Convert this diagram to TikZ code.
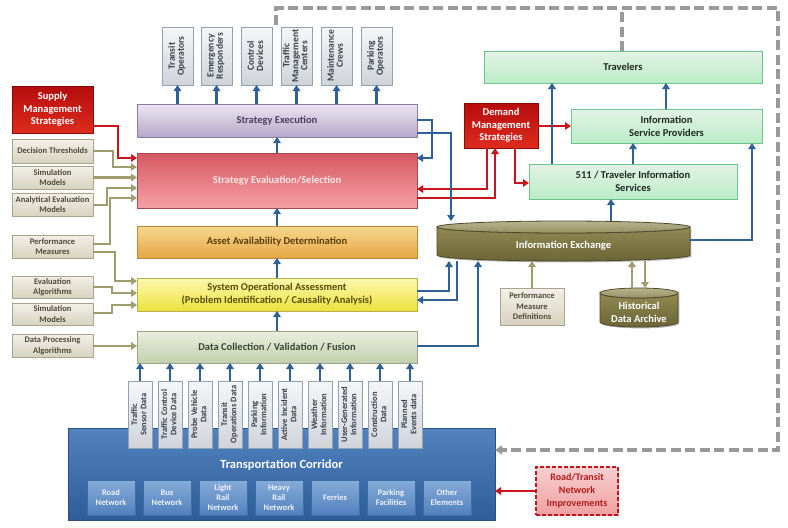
\documentclass[tikz,border=0pt]{standalone}
\usepackage{fontspec}
\setmainfont{Carlito}
\usepackage{graphicx}
\usetikzlibrary{arrows.meta,shadows}

\definecolor{arrblue}{HTML}{2E6297}
\definecolor{arrolive}{HTML}{A09C6C}
\definecolor{arrred}{HTML}{C9141C}
\definecolor{dashgray}{HTML}{9A9A9A}
\definecolor{grayT}{HTML}{F5F6F8}\definecolor{grayBot}{HTML}{D0D4D9}\definecolor{grayB}{HTML}{8FA2B6}\definecolor{grayTx}{HTML}{3A4049}
\definecolor{seT}{HTML}{EBE6F1}\definecolor{seBot}{HTML}{B4A8C8}\definecolor{seB}{HTML}{8A7DA0}\definecolor{seTx}{HTML}{4A3F5E}
\definecolor{sesT}{HTML}{D65862}\definecolor{sesBot}{HTML}{F6A1A4}\definecolor{sesB}{HTML}{A9484E}\definecolor{sesTx}{HTML}{FCE8E8}
\definecolor{aadT}{HTML}{F8D891}\definecolor{aadBot}{HTML}{E4A743}\definecolor{aadB}{HTML}{B98A3C}\definecolor{aadTx}{HTML}{5C3D0E}
\definecolor{soaT}{HTML}{FCF9AE}\definecolor{soaBot}{HTML}{EBE13C}\definecolor{soaB}{HTML}{B8B04A}\definecolor{soaTx}{HTML}{5A4D0A}
\definecolor{dcT}{HTML}{EAEFE0}\definecolor{dcBot}{HTML}{C3CFAE}\definecolor{dcB}{HTML}{9AA588}\definecolor{dcTx}{HTML}{3B4434}
\definecolor{lfT}{HTML}{F2F0E8}\definecolor{lfBot}{HTML}{D8D3C0}\definecolor{lfB}{HTML}{A8A38A}\definecolor{lfTx}{HTML}{4D4A3A}
\definecolor{rdT}{HTML}{B50D0D}\definecolor{rdBot}{HTML}{DE2C1E}\definecolor{rdB}{HTML}{8A0A0A}
\definecolor{grT}{HTML}{E4F3E7}\definecolor{grBot}{HTML}{BAECC6}\definecolor{grB}{HTML}{6CC48F}\definecolor{grTx}{HTML}{1F2A22}
\definecolor{tcT}{HTML}{5283BF}\definecolor{tcBot}{HTML}{2E5D98}\definecolor{tcB}{HTML}{2A4F80}
\definecolor{inT}{HTML}{86ABD8}\definecolor{inBot}{HTML}{5181BE}\definecolor{inB}{HTML}{3E6CA6}\definecolor{inTx}{HTML}{EEF3FA}
\definecolor{ieT}{HTML}{918A55}\definecolor{ieBot}{HTML}{6B6535}\definecolor{ieTopT}{HTML}{B9B48E}\definecolor{ieTopB}{HTML}{948F62}\definecolor{ieB}{HTML}{4F4B2A}
\definecolor{rtT}{HTML}{F8CFCF}\definecolor{rtBot}{HTML}{F0A0A0}\definecolor{rtB}{HTML}{C0141A}\definecolor{rtTx}{HTML}{B01C1C}

\newcommand\fmain{\bfseries\fontsize{10.5}{13}\selectfont}
\newcommand\fgreen{\bfseries\fontsize{10.5}{13}\selectfont}
\newcommand\fred{\bfseries\fontsize{10.5}{12.7}\selectfont}
\newcommand\fleft{\bfseries\fontsize{8.5}{10.5}\selectfont}
\newcommand\ftop{\bfseries\fontsize{9.5}{9}\selectfont}
\newcommand\fds{\bfseries\fontsize{8.5}{9.2}\selectfont}
\newcommand\finner{\bfseries\fontsize{8.5}{10}\selectfont}
\newcommand\ftc{\bfseries\fontsize{12.5}{14}\selectfont}
\newcommand\fie{\bfseries\fontsize{10.5}{12.7}\selectfont}
\newcommand\frt{\bfseries\fontsize{10}{13}\selectfont}

\newcommand\vtxt[1]{\rotatebox{90}{\begin{tabular}{@{}c@{}}#1\end{tabular}}}
\newcommand\placebox[6]{\node[#1,minimum width={(#5-#3)*1pt},minimum height={(#6-#4)*1pt}] (#2) at ({(#3+#5)/2},{(#4+#6)/2})}

\tikzset{
  bx/.style={draw, line width=0.8pt, inner sep=1pt, outer sep=0pt, align=center,
    drop shadow={shadow xshift=1.4pt, shadow yshift=-1.4pt, opacity=0.3, fill=black}},
  topbox/.style={bx, draw=grayB, top color=grayT, bottom color=grayBot, text=grayTx, font=\ftop},
  dsbox/.style={bx, draw=grayB, top color=grayT, bottom color=grayBot, text=grayTx, font=\fds},
  sebox/.style={bx, draw=seB, top color=seT, bottom color=seBot, text=seTx, font=\fmain},
  sesbox/.style={bx, draw=sesB, top color=sesT, bottom color=sesBot, text=sesTx, font=\fmain},
  aadbox/.style={bx, draw=aadB, top color=aadT, bottom color=aadBot, text=aadTx, font=\fmain},
  soabox/.style={bx, draw=soaB, top color=soaT, bottom color=soaBot, text=soaTx, font=\fmain},
  dcbox/.style={bx, draw=dcB, top color=dcT, bottom color=dcBot, text=dcTx, font=\fmain},
  leftbox/.style={bx, draw=lfB, top color=lfT, bottom color=lfBot, text=lfTx, font=\fleft},
  redbox/.style={bx, draw=rdB, top color=rdT, bottom color=rdBot, text=white, font=\fred},
  greenbox/.style={bx, draw=grB, top color=grT, bottom color=grBot, text=grTx, font=\fgreen},
  tcbox/.style={bx, draw=tcB, top color=tcT, bottom color=tcBot},
  innerbox/.style={bx, draw=inB, top color=inT, bottom color=inBot, text=inTx, font=\finner},
  rtbox/.style={bx, draw=rtB, line width=1.5pt, dash pattern=on 4pt off 2pt, top color=rtT, bottom color=rtBot, text=rtTx, font=\frt},
  cyl/.style={draw=ieB, line width=0.8pt, top color=ieT, bottom color=ieBot,
    drop shadow={shadow xshift=1.4pt, shadow yshift=-1.4pt, opacity=0.3, fill=black}},
  cyltop/.style={draw=ieB, line width=0.8pt, top color=ieTopT, bottom color=ieTopB},
  anchorbox/.style={inner sep=0pt, outer sep=0pt},
  cyltext/.style={text=white, font=\fie, align=center, inner sep=0pt},
  tctext/.style={text=white, font=\ftc, inner sep=0pt},
  arr/.style={line width=2.2pt, -{Triangle[width=7.5pt,length=6pt]}},
  barr/.style={arr, draw=arrblue},
  oarr/.style={arr, draw=arrolive},
  rarr/.style={arr, draw=arrred},
  gdash/.style={draw=dashgray, line width=3.2pt, dash pattern=on 10pt off 4.5pt},
}

\begin{document}
\begin{tikzpicture}[x=1pt,y=-1pt]
\path[fill=white,use as bounding box] (0,0) rectangle (788,528);

% ---------------- top output boxes
\placebox{topbox}{to1}{162}{27}{193}{85}{\vtxt{Transit\\Operators}};
\placebox{topbox}{to2}{201}{27}{232}{85}{\vtxt{Emergency\\Responders}};
\placebox{topbox}{to3}{241}{27}{272}{85}{\vtxt{Control\\Devices}};
\placebox{topbox}{to4}{281}{27}{312}{85}{\vtxt{Traffic\\Management\\Centers}};
\placebox{topbox}{to5}{321}{27}{352}{85}{\vtxt{Maintenance\\Crews}};
\placebox{topbox}{to6}{361}{27}{392}{85}{\vtxt{Parking\\Operators}};

% ---------------- main column
\placebox{sebox}{se}{137}{104}{417}{137}{Strategy Execution};
\placebox{sesbox}{ses}{137}{153}{417}{208}{Strategy Evaluation/Selection};
\placebox{aadbox}{aad}{137}{226}{417}{258}{Asset Availability Determination};
\placebox{soabox}{soa}{137}{278}{417}{311}{System Operational Assessment\\(Problem Identification / Causality Analysis)};
\placebox{dcbox}{dc}{137}{331}{417}{363}{Data Collection / Validation / Fusion};

% ---------------- left inputs
\placebox{redbox}{sms}{12}{86}{93}{133}{Supply\\Management\\Strategies};
\placebox{leftbox}{dt}{12}{139}{93}{163}{Decision Thresholds};
\placebox{leftbox}{sma}{12}{166}{93}{189}{Simulation\\Models};
\placebox{leftbox}{aem}{12}{193}{93}{216}{Analytical Evaluation\\Models};
\placebox{leftbox}{pm}{12}{235}{93}{258}{Performance\\Measures};
\placebox{leftbox}{ea}{12}{276}{93}{298}{Evaluation\\Algorithms};
\placebox{leftbox}{smb}{12}{303}{93}{325}{Simulation\\Models};
\placebox{leftbox}{dpa}{12}{334}{93}{357}{Data Processing\\Algorithms};

% ---------------- right side
\placebox{redbox}{dms}{464}{103}{538}{148}{Demand\\Management\\Strategies};
\placebox{greenbox}{trav}{484}{51}{762}{83}{Travelers};
\placebox{greenbox}{isp}{571}{109}{762}{143}{Information\\Service Providers};
\placebox{greenbox}{tis}{529}{164}{737}{199}{511 / Traveler Information\\Services};

% Information Exchange cylinder
\path[cyl] (437,227) -- (437,255) arc[start angle=180,end angle=0,x radius=126.5,y radius=6]
  -- (690,227) arc[start angle=0,end angle=180,x radius=126.5,y radius=6] -- cycle;
\path[cyltop] (563.5,227) ellipse[x radius=126.5,y radius=6];
\node[anchorbox, minimum width=253pt, minimum height=40pt] (ie) at (563.5,241) {};
\node[cyltext] (ielbl) at (563.5,246) {Information Exchange};

\placebox{leftbox}{pmd}{500}{288}{564}{325}{Performance\\Measure\\Definitions};

% Historical Data Archive cylinder
\path[cyl] (600,293) -- (600,322) arc[start angle=180,end angle=0,x radius=39,y radius=5]
  -- (678,293) arc[start angle=0,end angle=180,x radius=39,y radius=5] -- cycle;
\path[cyltop] (639,293) ellipse[x radius=39,y radius=5];
\node[anchorbox, minimum width=78pt, minimum height=39pt] (hda) at (639,307.5) {};
\node[cyltext] (hdalbl) at (639,312) {Historical\\Data Archive};

% ---------------- transportation corridor
\placebox{tcbox}{tc}{68}{428}{495}{520}{};
\node[tctext] (tclbl) at (281.5,465) {Transportation Corridor};
\placebox{innerbox}{na}{87}{480}{135}{515}{Road\\Network};
\placebox{innerbox}{nb}{143}{480}{191}{515}{Bus\\Network};
\placebox{innerbox}{nc}{199}{480}{247}{515}{Light\\Rail\\Network};
\placebox{innerbox}{nd}{255}{480}{303}{515}{Heavy\\Rail\\Network};
\placebox{innerbox}{ne}{311}{480}{359}{515}{Ferries};
\placebox{innerbox}{nf}{367}{480}{415}{515}{Parking\\Facilities};
\placebox{innerbox}{ng}{423}{480}{471}{515}{Other\\Elements};
\placebox{rtbox}{rtni}{536}{467}{618}{515}{Road/Transit\\Network\\Improvements};

% data sources
\placebox{dsbox}{dsa}{128}{381}{152}{448}{\vtxt{Traffic\\Sensor Data}};
\placebox{dsbox}{dsb}{158}{381}{182}{448}{\vtxt{Traffic Control\\Device Data}};
\placebox{dsbox}{dsc}{188}{381}{212}{448}{\vtxt{Probe Vehicle\\Data}};
\placebox{dsbox}{dsd}{218}{381}{242}{448}{\vtxt{Transit\\Operations Data}};
\placebox{dsbox}{dse}{248}{381}{272}{448}{\vtxt{Parking\\Information}};
\placebox{dsbox}{dsf}{278}{381}{302}{448}{\vtxt{Active Incident\\Data}};
\placebox{dsbox}{dsg}{308}{381}{332}{448}{\vtxt{Weather\\Information}};
\placebox{dsbox}{dsh}{338}{381}{362}{448}{\vtxt{User-Generated\\Information}};
\placebox{dsbox}{dsi}{368}{381}{392}{448}{\vtxt{Construction\\Data}};
\placebox{dsbox}{dsj}{398}{381}{422}{448}{\vtxt{Planned\\Events data}};

% ---------------- gray dashed feedback
\coordinate (fb) at (276,25);
\draw[gdash, -{Triangle[width=9pt,length=7pt]}] (fb) |- (778,8) |- (tc.east |- 0,450);
\draw[gdash] (trav.north -| 622,0) -- (622,8);

% ---------------- red connectors
\draw[rarr] (sms.east |- 0,126) -| (118,158) -- (ses.west |- 0,158);
\draw[rarr] (dms.south -| 487,0) |- (ses.east |- 0,189);
\draw[rarr] (ses.east |- 0,198) -| (dms.south -| 495,0);
\draw[rarr] (dms.east |- 0,126) -- (isp.west |- 0,126);
\draw[rarr] (dms.south -| 515,0) |- (tis.west |- 0,183);
\draw[rarr] (rtni.west) -- (tc.east |- rtni.west);

% ---------------- olive connectors
\draw[oarr] (dt.east |- 0,151) -| (113,167) -- (ses.west |- 0,167);
\draw[oarr] (sma.east) -- (ses.west |- sma.east);
\draw[oarr] (aem.east |- 0,205) -| (107,188) -- (ses.west |- 0,188);
\draw[oarr] (pm.east |- 0,244) -| (110,198) -- (ses.west |- 0,198);
\draw[oarr] (pm.east |- 0,252) -| (115,281) -- (soa.west |- 0,281);
\draw[oarr] (ea.east |- 0,287) -| (112,293) -- (soa.west |- 0,293);
\draw[oarr] (smb.east |- 0,313) -| (112,305) -- (soa.west |- 0,305);
\draw[oarr] (dpa.east |- 0,346) -- (dc.west |- 0,346);
\draw[oarr] (pmd.north -| 532,0) -- (ie.south -| 532,0);
\draw[oarr] (hda.north -| 632,0) -- (ie.south -| 632,0);
\draw[oarr] (ie.south -| 645,0) -- (hda.north -| 645,0);

% ---------------- blue connectors
\foreach \t in {to1,to2,to3,to4,to5,to6} \draw[barr] (se.north -| \t) -- (\t.south);
\draw[barr] (ses.north) -- (se.south);
\draw[barr] (aad.north) -- (ses.south);
\draw[barr] (soa.north) -- (aad.south);
\draw[barr] (dc.north) -- (soa.south);
\foreach \d in {dsa,dsb,dsc,dsd,dse,dsf,dsg,dsh,dsi,dsj} \draw[barr] (\d.north) -- (dc.south -| \d);
\draw[barr] (se.east |- 0,120) -| (432,158) -- (ses.east |- 0,158);
\draw[barr] (se.east |- 0,133) -| (ie.north -| 451,0);
\draw[barr] (soa.east |- 0,291) -| (ie.south -| 449,0);
\draw[barr] (ie.south -| 457,0) |- (soa.east |- 0,300);
\draw[barr] (dc.east |- 0,346) -| (ie.south -| 478,0);
\draw[barr] (ie.north -| 611,0) -- (tis.south -| 611,0);
\draw[barr] (ie.east |- 0,240) -| (isp.south -| 752,0);
\draw[barr] (tis.north -| 552,0) -- (trav.south -| 552,0);
\draw[barr] (tis.north -| 633,0) -- (isp.south -| 633,0);
\draw[barr] (isp.north -| 666,0) -- (trav.south -| 666,0);
\end{tikzpicture}
\end{document}
